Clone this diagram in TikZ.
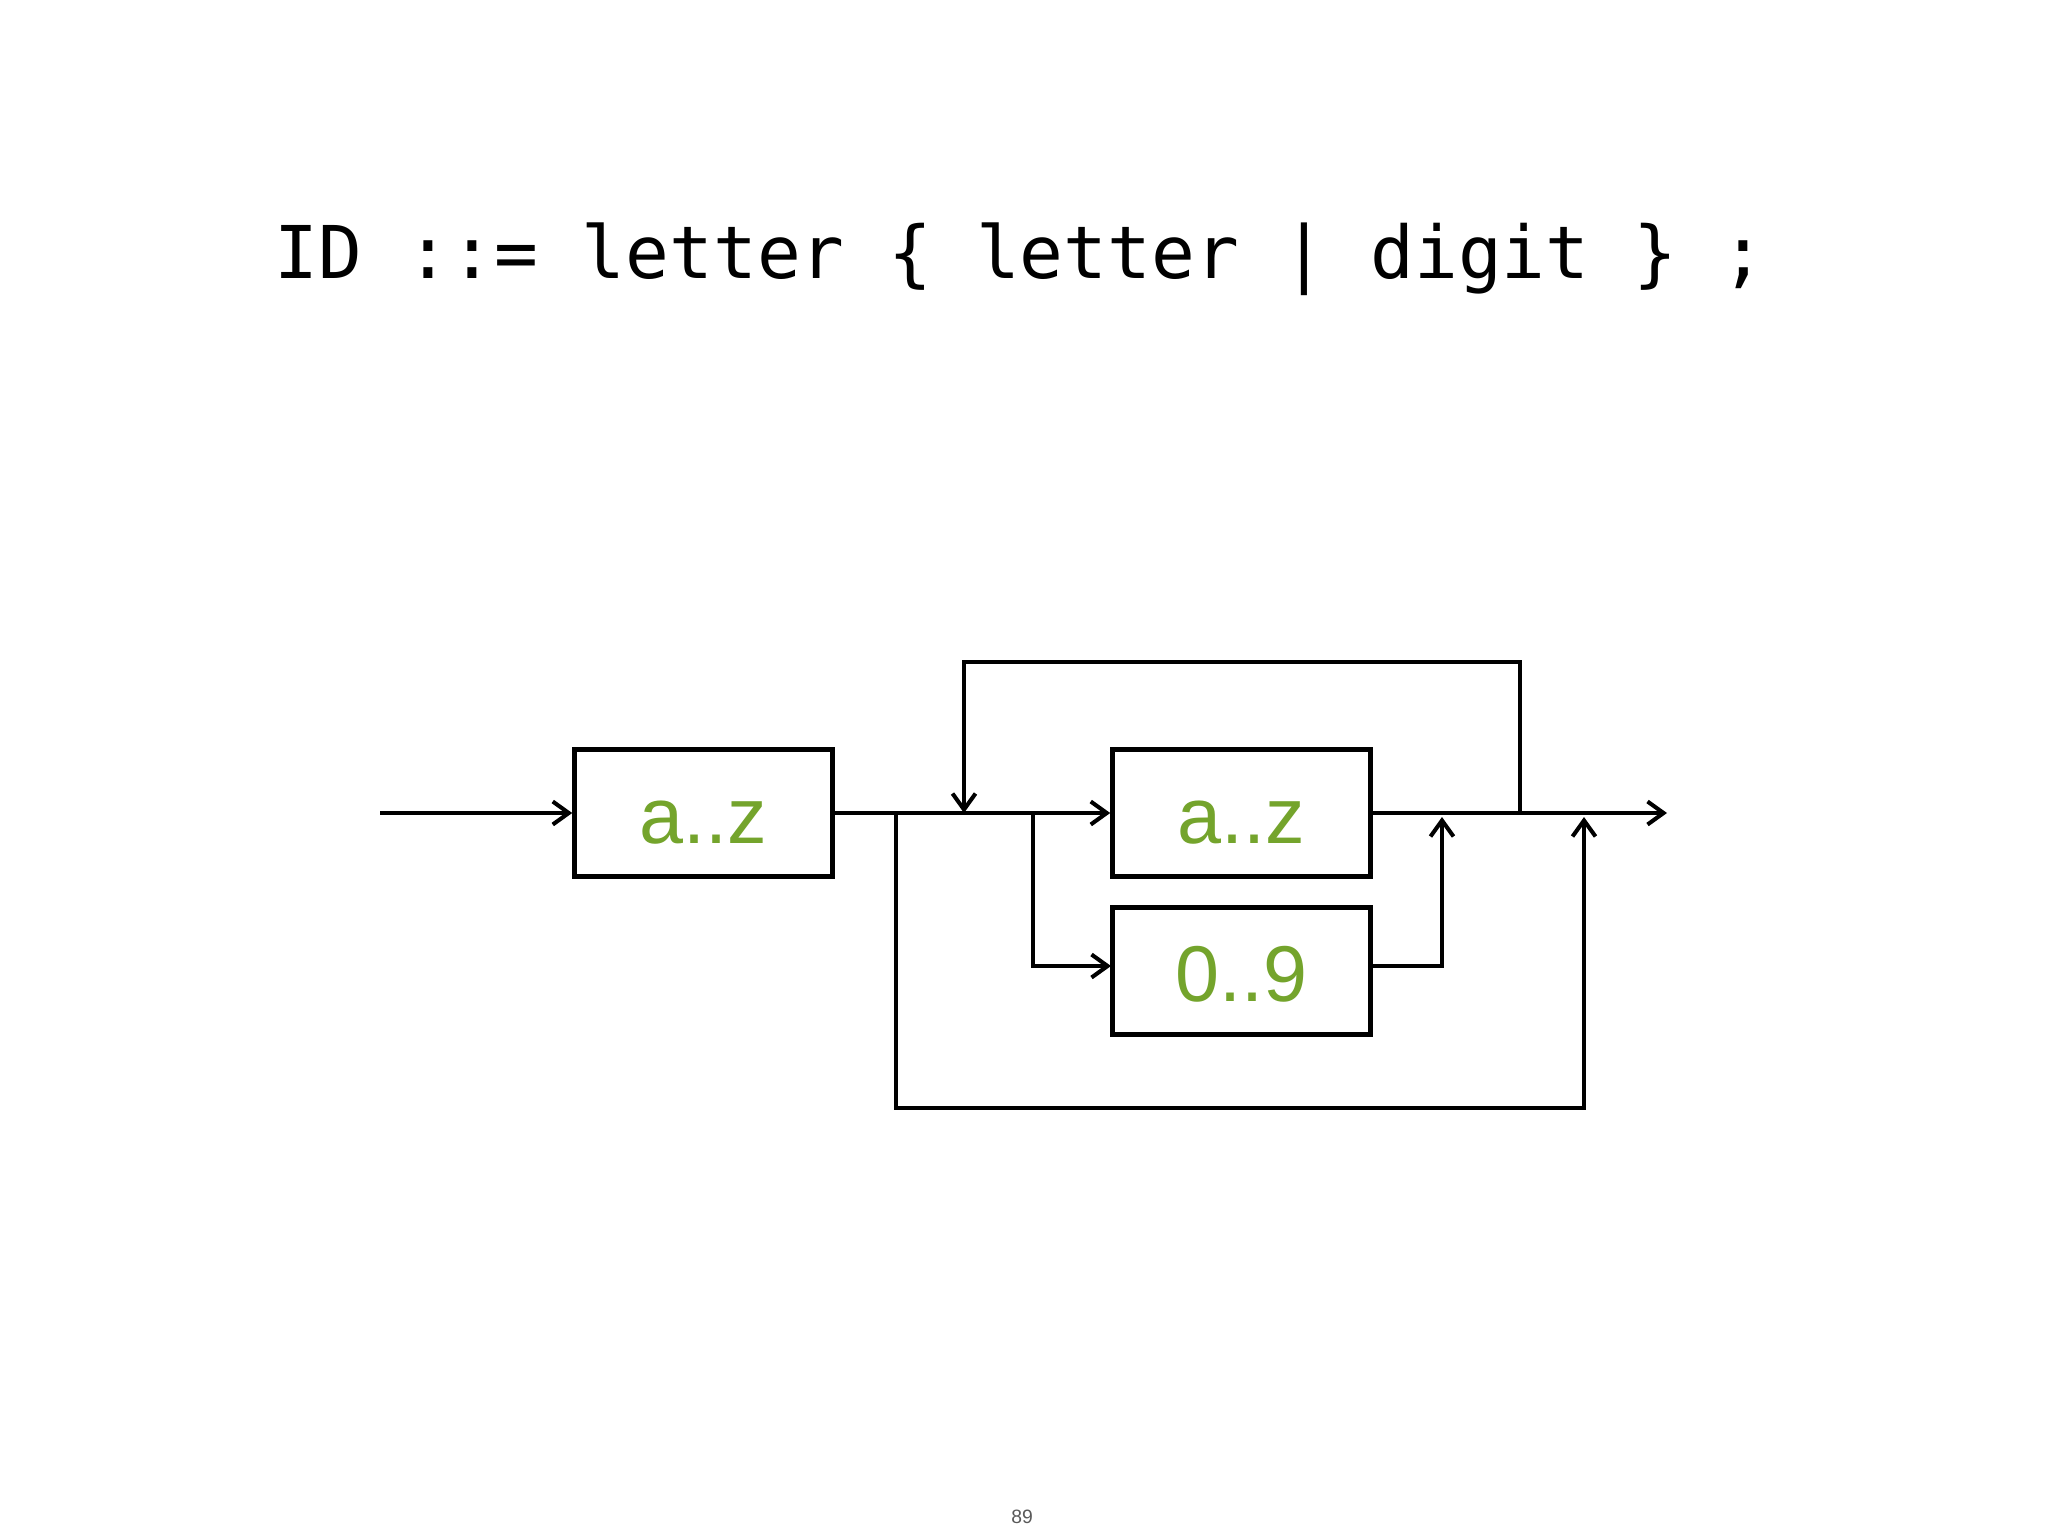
\documentclass[tikz,border=0pt]{standalone}
\usepackage{fontspec}
\setmainfont{Liberation Sans}
\newfontfamily\titlemono{DejaVu Sans Mono}
\usetikzlibrary{arrows.meta}
\definecolor{symgreen}{RGB}{116,164,44}
\tikzset{
  symbox/.style={draw=black, line width=1.25pt, minimum width=2.58cm, minimum height=1.27cm,
    inner sep=0pt, text height=0.6cm, text depth=0cm, text=symgreen,
    font=\fontsize{22.5}{24}\selectfont},
  wire/.style={line width=1.15pt},
  arr/.style={wire, -{Straight Barb[length=1.6mm,width=2.3mm]}}
}
\begin{document}
\begin{tikzpicture}[x=0.01cm, y=-0.01cm]
\fill[white] (0,0) rectangle (2048,1536);
\useasboundingbox (0,0) rectangle (2048,1536);

% title
\node[anchor=base, inner sep=0pt, font=\titlemono\fontsize{20.7}{24}\selectfont] (title) at (1020,278)
  {ID ::= letter \{ letter | digit \} ;};

% boxes
\node[symbox] (b1) at (703.5,813) {a..z};
\node[symbox] (b2) at (1241.5,813) {a..z};
\node[symbox] (b3) at (1241.5,971) {0..9};

% coordinates
\coordinate (start) at (380,813);
\coordinate (jd) at (896,813);
\coordinate (jl) at (964,813);
\coordinate (jt) at (964,662);
\coordinate (jb) at (1033,813);
\coordinate (b3in) at (1111,966);
\coordinate (b3out) at (1372,966);
\coordinate (m1) at (1442,817);
\coordinate (jo) at (1520,813);
\coordinate (jr) at (1520,662);
\coordinate (m2) at (1584,817);
\coordinate (dd) at (896,1108);
\coordinate (out) at (1667,813);

% connectors
\draw[arr] (start) -- (b1.west);
\draw[arr] (b1.east) -- (b2.west);
\draw[arr] (jo) -- (jr) -- (jt) -- (jl);
\draw[arr] (jb) |- (b3in);
\draw[arr] (b3out) -| (m1);
\draw[arr] (b2.east) -- (out);
\draw[arr] (jd) -- (dd) -| (m2);

% page number
\node[anchor=base, inner sep=0pt, text=black!65, font=\fontsize{5.5}{6}\selectfont] (pnum) at (1022,1523) {89};
\end{tikzpicture}
\end{document}
